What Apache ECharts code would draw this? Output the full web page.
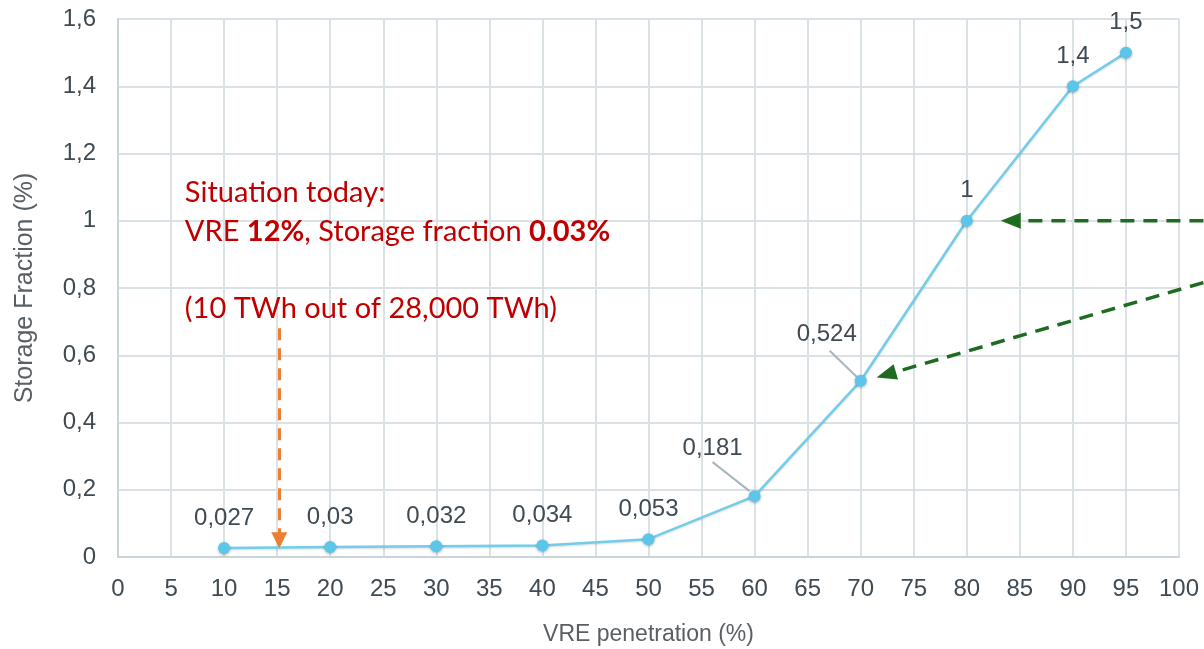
<!DOCTYPE html>
<html><head><meta charset="utf-8">
<script src="https://cdn.jsdelivr.net/npm/echarts@6/dist/echarts.min.js"></script>
<style>html,body{margin:0;padding:0;background:#fff}#c{width:1204px;height:649px}</style>
</head><body><div id="c"></div>
<script>
const vrePenetration = [10, 20, 30, 40, 50, 60, 70, 80, 90, 95];
const storageFraction = [0.027, 0.03, 0.032, 0.034, 0.053, 0.181, 0.524, 1, 1.4, 1.5];
const noteLines = ['Situation today:', 'VRE {b|12%}, Storage fraction {b|0.03%}', '', '(10 TWh out of 28,000 TWh)'];
const todayArrow = [[15.2, 0.68], [15.2, 0.05]];
const greenArrow1 = [[102.3, 1.0], [83.2, 1.0]];
const greenArrow2 = [[102.3, 0.816], [71.5, 0.534]];

// label displacement and leader offsets (pixels) for the two moved labels
const movedLabels = {5: [-42, -18], 6: [-34, -16]};
const leaderOffsets = {5: [[-42, -34], [-5, -5]], 6: [[-31, -30], [-3, -3]]};

const fmt = v => String(+v.toFixed(3)).replace('.', ',');
const axisFont = {fontFamily: 'Liberation Sans', fontSize: 24, color: '#3f4a52'};
const gridLine = {lineStyle: {color: '#dae2e5', width: 2}};

const chart = echarts.init(document.getElementById('c'), null, {renderer: 'canvas'});
chart.setOption({
  animation: false,
  grid: {left: 118, right: 25, top: 19, bottom: 92, outerBoundsMode: 'none', containLabel: false},
  xAxis: {
    type: 'value', min: 0, max: 100, interval: 5,
    axisLine: {show: true, lineStyle: {color: '#c9d3d8', width: 2}},
    axisTick: {show: false},
    splitLine: gridLine,
    axisLabel: Object.assign({margin: 20}, axisFont),
    name: 'VRE penetration (%)', nameLocation: 'middle', nameGap: 66,
    nameTextStyle: {fontFamily: 'Liberation Sans', fontSize: 23, color: '#595f63'}
  },
  yAxis: {
    type: 'value', min: 0, max: 1.6, interval: 0.2,
    axisLine: {show: true, lineStyle: {color: '#c9d3d8', width: 2}},
    axisTick: {show: false},
    splitLine: gridLine,
    axisLabel: Object.assign({margin: 22, formatter: v => fmt(v)}, axisFont),
    name: 'Storage Fraction (%)', nameLocation: 'middle', nameGap: 80,
    nameTextStyle: {fontFamily: 'Liberation Sans', fontSize: 25, color: '#595f63'}
  },
  series: [{
    type: 'line',
    data: vrePenetration.map((x, i) => [x, storageFraction[i]]),
    symbol: 'circle', symbolSize: 12,
    itemStyle: {color: '#5bc5ea', shadowColor: 'rgba(0,0,0,0.3)', shadowBlur: 3, shadowOffsetY: 1},
    lineStyle: {color: '#73cdea', width: 2.5, shadowColor: 'rgba(0,0,0,0.15)', shadowBlur: 2, shadowOffsetY: 1},
    label: {show: true, position: 'top', distance: 12, formatter: p => fmt(p.value[1]),
      fontFamily: 'Liberation Sans', fontSize: 24, color: '#3f4a52'},
    labelLayout: function (p) {
      const m = movedLabels[p.dataIndex];
      return m ? {dx: m[0], dy: m[1]} : {};
    },
    markPoint: {
      silent: true,
      symbol: 'circle', symbolSize: 0,
      data: [{
        coord: [6.3, 0.911],
        label: {
          show: true, position: 'right', distance: 0,
          formatter: noteLines.join('\n'),
          fontFamily: 'Lato', fontSize: 29, lineHeight: 38.5, color: '#c00000',
          rich: {b: {fontFamily: 'Lato', fontSize: 29, fontWeight: 'bold', color: '#c00000', lineHeight: 38.5}}
        }
      }]
    },
    markLine: {
      silent: true,
      symbolSize: [16, 16],
      label: {show: false},
      data: [
        [{coord: todayArrow[0], symbol: 'none', lineStyle: {color: '#ed7d31', width: 3, type: [12, 8]}},
         {coord: todayArrow[1], symbol: 'triangle'}]
      ]
    }
  }]
});

function arrowGraphic(pts, color) {
  const a = chart.convertToPixel({gridIndex: 0}, pts[0]);
  const b = chart.convertToPixel({gridIndex: 0}, pts[1]);
  const dx = b[0] - a[0], dy = b[1] - a[1];
  const len = Math.hypot(dx, dy), ux = dx / len, uy = dy / len;
  const headL = 20, headW = 8;
  const base = [b[0] - ux * headL, b[1] - uy * headL];
  return [
    {type: 'line', silent: true, z: 10,
     shape: {x1: a[0], y1: a[1], x2: base[0], y2: base[1]},
     style: {stroke: color, lineWidth: 3.5, lineDash: [14, 9]}},
    {type: 'polygon', silent: true, z: 10,
     shape: {points: [b, [base[0] - uy * headW, base[1] + ux * headW], [base[0] + uy * headW, base[1] - ux * headW]]},
     style: {fill: color}}
  ];
}
function leaderGraphic(i) {
  const p = chart.convertToPixel({gridIndex: 0}, [vrePenetration[i], storageFraction[i]]);
  const o = leaderOffsets[i];
  return {type: 'line', silent: true, z: 3,
    shape: {x1: p[0] + o[0][0], y1: p[1] + o[0][1], x2: p[0] + o[1][0], y2: p[1] + o[1][1]},
    style: {stroke: '#aab6bb', lineWidth: 2}};
}
chart.setOption({graphic: [].concat(
  arrowGraphic(greenArrow1, '#1f6b22'),
  arrowGraphic(greenArrow2, '#1f6b22'),
  Object.keys(leaderOffsets).map(k => leaderGraphic(+k))
)});
</script></body></html>
